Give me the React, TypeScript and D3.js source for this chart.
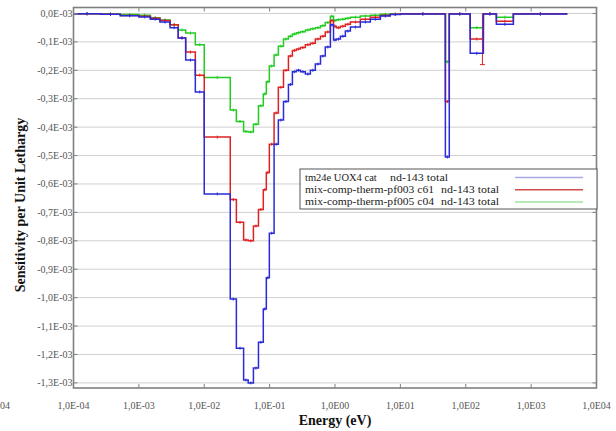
import React from "react";
import * as d3 from "d3";

// Energy group boundaries (eV)
const edges = [
  1e-4, 2.6e-4, 5.2e-4, 1e-3, 1.5e-3, 2.1e-3, 3e-3, 4e-3, 5.2e-3, 7.3e-3,
  1e-2, 0.025, 0.031, 0.04, 0.047, 0.0565, 0.0675, 0.08, 0.089, 0.099,
  0.117, 0.136, 0.163, 0.194, 0.223, 0.257, 0.296, 0.352, 0.42, 0.5,
  0.6, 0.71, 0.85, 0.95, 1.05, 1.21, 1.44, 1.72, 2.44, 3.47,
  4.94, 7.0, 10, 48.8, 56, 117, 186, 294, 535, 3580,
];

// Sensitivity per unit lethargy (units of 1E-03), one value per group
const tm24eUOX4 = [
  -0.001, -0.003, -0.008, -0.012, -0.02, -0.03, -0.05, -0.086, -0.164, -0.276,
  -0.635, -1.005, -1.178, -1.29, -1.3, -1.248, -1.157, -1.04, -0.93, -0.773,
  -0.46, -0.375, -0.31, -0.25, -0.205, -0.2, -0.205, -0.213, -0.2, -0.178,
  -0.15, -0.118, -0.04, -0.093, -0.09, -0.08, -0.062, -0.048, -0.03, -0.02,
  -0.009, -0.004, -0.002, -0.505, -0.002, -0.14, -0.002, -0.038, -0.002,
];
const pf003c61 = [
  -0.001, -0.003, -0.007, -0.01, -0.017, -0.025, -0.04, -0.086, -0.136, -0.217,
  -0.435, -0.655, -0.735, -0.797, -0.8, -0.748, -0.69, -0.62, -0.56, -0.46,
  -0.35, -0.26, -0.2, -0.15, -0.13, -0.125, -0.12, -0.11, -0.105, -0.09,
  -0.08, -0.065, -0.025, -0.045, -0.05, -0.045, -0.038, -0.03, -0.02, -0.013,
  -0.007, -0.003, -0.001, -0.31, -0.001, -0.09, -0.001, -0.027, -0.001,
];
const pf005c04 = [
  -0.001, -0.002, -0.004, -0.006, -0.015, -0.023, -0.04, -0.058, -0.069, -0.11,
  -0.225, -0.34, -0.38, -0.415, -0.417, -0.39, -0.325, -0.283, -0.24, -0.185,
  -0.146, -0.115, -0.09, -0.08, -0.072, -0.068, -0.064, -0.058, -0.054, -0.05,
  -0.043, -0.032, -0.01, -0.025, -0.022, -0.02, -0.017, -0.013, -0.009, -0.006,
  -0.003, -0.002, -0.001, -0.17, -0.001, -0.05, -0.001, -0.013, -0.001,
];
// notable uncertainty (1E-03): [group index, energy where drawn (eV), half-width]
const pf003c61Uncertainty = [[45, 180, 0.09]];

const seriesNames = [
  "tm24e UOX4 cat",
  "mix-comp-therm-pf003 c61",
  "mix-comp-therm-pf005 c04",
];
const responseLabel = "nd-143 total";

const xTicks = [1e-4, 1e-3, 1e-2, 1e-1, 1e0, 1e1, 1e2, 1e3, 1e4];
const xTickLabels = ["1,0E-04", "1,0E-03", "1,0E-02", "1,0E-01", "1,0E00", "1,0E01", "1,0E02", "1,0E03", "1,0E04"];
const yTicks = [0, -0.1, -0.2, -0.3, -0.4, -0.5, -0.6, -0.7, -0.8, -0.9, -1.0, -1.1, -1.2, -1.3];
const yTickLabels = ["0,0E-03", "-0,1E-03", "-0,2E-03", "-0,3E-03", "-0,4E-03", "-0,5E-03", "-0,6E-03", "-0,7E-03", "-0,8E-03", "-0,9E-03", "-1,0E-03", "-1,1E-03", "-1,2E-03", "-1,3E-03"];

const W = 616;
const H = 431;
const L = 73.5, R = 596.5, T = 7.5, B = 388;

export default function App() {
  const x = d3.scaleLog().domain([1e-4, 1e4]).range([L, R]);
  const y = d3.scaleLinear().domain([0.021, -1.318]).range([T, B]);

  const series = [
    { name: seriesNames[2], vals: pf005c04, color: "#22cc22", unc: [] as number[][] },
    { name: seriesNames[1], vals: pf003c61, color: "#dd2222", unc: pf003c61Uncertainty },
    { name: seriesNames[0], vals: tm24eUOX4, color: "#2a2ad8", unc: [] as number[][] },
  ];

  const line = d3
    .line<[number, number]>()
    .x((d) => x(d[0]))
    .y((d) => y(d[1]))
    .curve(d3.curveStepAfter);

  const makePts = (vals: number[]): [number, number][] => {
    const pts: [number, number][] = vals.map((v, i) => [edges[i], v]);
    pts.push([edges[vals.length], vals[vals.length - 1]]);
    return pts;
  };

  const legendRows = [
    { name: seriesNames[0], color: "#a9a9e6", respX: 390, nameW: 0 },
    { name: seriesNames[1], color: "#d44a4a", respX: 441, nameW: 129 },
    { name: seriesNames[2], color: "#9fe09f", respX: 441, nameW: 129 },
  ];

  return (
    <svg
      width={W}
      height={H}
      style={{ position: "absolute", left: 0, top: 0, background: "#fff" }}
      fontFamily="'Liberation Serif', 'DejaVu Serif', serif"
    >
      {/* gridlines */}
      {yTicks.map((t, i) => (
        <line key={"g" + i} x1={L} x2={R} y1={y(t)} y2={y(t)} stroke="#cfcfcf" strokeWidth={1} />
      ))}
      {/* series */}
      {series.map((s, si) => (
        <g key={"s" + si}>
          <path d={line(makePts(s.vals)) || ""} fill="none" stroke={s.color} strokeWidth={1.5} />
          {s.vals.map((v, i) => {
            const cx = Math.sqrt(edges[i] * edges[i + 1]);
            return (
              <line key={"m" + i} x1={x(cx)} x2={x(cx)} y1={y(v) - 1.5} y2={y(v) + 1.5} stroke={s.color} strokeWidth={1} />
            );
          })}
          {s.unc.map(([gi, ex, e], k) => {
            const v = s.vals[gi];
            return (
              <g key={"u" + k} stroke={s.color} strokeWidth={1}>
                <line x1={x(ex)} x2={x(ex)} y1={y(v + e)} y2={y(v - e)} />
                <line x1={x(ex) - 2.5} x2={x(ex) + 2.5} y1={y(v - e)} y2={y(v - e)} />
              </g>
            );
          })}
        </g>
      ))}
      {/* frame */}
      <rect x={L} y={T} width={R - L} height={B - T} fill="none" stroke="#808080" strokeWidth={1.6} />
      {/* y ticks */}
      {yTicks.map((t, i) => (
        <g key={"yt" + i}>
          <line x1={L} x2={L + 4} y1={y(t)} y2={y(t)} stroke="#808080" />
          <line x1={R - 4} x2={R} y1={y(t)} y2={y(t)} stroke="#808080" />
          <text x={L - 1} y={y(t) + 3.5} textAnchor="end" fontSize={10} fill="#555">
            {yTickLabels[i]}
          </text>
        </g>
      ))}
      {/* x ticks */}
      {xTicks.map((t, i) => (
        <g key={"xt" + i}>
          <line x1={x(t)} x2={x(t)} y1={B} y2={B - 4} stroke="#808080" />
          <line x1={x(t)} x2={x(t)} y1={T} y2={T + 4} stroke="#808080" />
          <text x={x(t)} y={409} textAnchor="middle" fontSize={10} fill="#555">
            {xTickLabels[i]}
          </text>
        </g>
      ))}
      <text x={0} y={409} textAnchor="start" fontSize={10} fill="#555">04</text>
      {/* axis titles */}
      <text x={(L + R) / 2} y={425} textAnchor="middle" fontSize={14} fontWeight="bold" fill="#111">
        Energy (eV)
      </text>
      <text
        transform={`translate(25,205) rotate(-90)`}
        textAnchor="middle"
        fontSize={14}
        fontWeight="bold"
        fill="#111"
      >
        Sensitivity per Unit Lethargy
      </text>
      {/* legend */}
      <rect x={300} y={169} width={297} height={40} fill="#fff" stroke="#555" strokeWidth={1} />
      {legendRows.map((r, i) => (
        <g key={"l" + i}>
          {r.nameW > 0 ? (
            <text x={305} y={180.5 + i * 12.3} fontSize={10.5} fill="#222" textLength={r.nameW} lengthAdjust="spacingAndGlyphs">
              {r.name}
            </text>
          ) : (
            <text x={305} y={180.5 + i * 12.3} fontSize={10.5} fill="#222">
              {r.name}
            </text>
          )}
          <text x={r.respX} y={180.5 + i * 12.3} fontSize={10.5} fill="#222" textLength={58} lengthAdjust="spacingAndGlyphs">
            {responseLabel}
          </text>
          <line x1={515} x2={583} y1={177.5 + i * 12.3} y2={177.5 + i * 12.3} stroke={r.color} strokeWidth={1.5} />
        </g>
      ))}
    </svg>
  );
}
